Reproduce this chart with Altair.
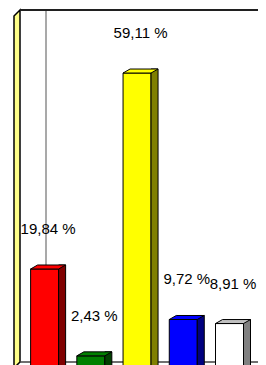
import altair as alt
import pandas as pd

# --- data ---
idx = [0, 1, 2, 3, 4]
values = [19.84, 2.43, 59.11, 9.72, 8.91]
labels = ["19,84 %", "2,43 %", "59,11 %", "9,72 %", "8,91 %"]
front_colors = ["#FF0000", "#008000", "#FFFF00", "#0000FF", "#FFFFFF"]
side_colors = ["#800000", "#004000", "#808000", "#000080", "#808080"]
top_colors = ["#FF0000", "#008000", "#FFFF00", "#0000FF", "#C0C0C0"]

df = pd.DataFrame({
    "i": idx,
    "v": values,
    "base": [0] * len(idx),
    "label": labels,
    "front": front_colors,
    "side": side_colors,
    "top": top_colors,
})
one = pd.DataFrame({"a": [0]})

W, H = 238, 355
xs = alt.Scale(domain=[-0.5, -0.5 + W / 48.25], nice=False, zero=False)
ys = alt.Scale(domain=[0.6, 71.74], nice=False, zero=False)

X = alt.X("i:Q", scale=xs, axis=None)
Y = alt.Y("v:Q", scale=ys, axis=None)
Y2 = alt.Y2("base:Q")

wall = alt.Chart(one).mark_point(
    shape="M-6,6L0,0L0,352L-6,358Z", size=4, filled=True,
    fill="#FFFF88", stroke="black", strokeWidth=1.5, opacity=1,
).encode(x=alt.value(0), y=alt.value(0))

top_line = alt.Chart(one).mark_rule(color="#202020", strokeWidth=2).encode(
    x=alt.value(0), x2=alt.value(W), y=alt.value(0))

gray_line = alt.Chart(one).mark_rule(color="#8C8C8C", strokeWidth=1.5).encode(
    x=alt.value(26), y=alt.value(0), y2=alt.value(H))

floor = alt.Chart(one).mark_rule(color="#404040", strokeWidth=1.5).encode(
    x=alt.value(0), x2=alt.value(W), y=alt.value(352))

front = alt.Chart(df).mark_bar(size=28, xOffset=-3.5, stroke="black", strokeWidth=1).encode(
    x=X, y=Y, y2=Y2, fill=alt.Fill("front:N", scale=None))

side = alt.Chart(df).mark_bar(size=7, xOffset=14, yOffset=-4, stroke="black", strokeWidth=1).encode(
    x=X, y=Y, y2=Y2, fill=alt.Fill("side:N", scale=None))

top = alt.Chart(df).mark_point(
    shape="M-17.5,0L10.5,0L17.5,-4L-10.5,-4Z", size=4, filled=True,
    stroke="black", strokeWidth=1, opacity=1,
).encode(x=X, y=Y, fill=alt.Fill("top:N", scale=None))

text = alt.Chart(df).mark_text(
    dy=-35, baseline="alphabetic", align="center",
    font="Liberation Sans", fontSize=15, color="black",
).encode(x=X, y=Y, text="label:N")

chart = alt.layer(wall, gray_line, top_line, floor, front, side, top, text).properties(
    width=W, height=H,
    autosize=alt.AutoSizeParams(type="none"),
    padding={"left": 12, "top": 2, "right": 0, "bottom": 0},
).configure_view(stroke=None)

chart.save("out.html", embed_options={"renderer": "svg", "actions": False})
